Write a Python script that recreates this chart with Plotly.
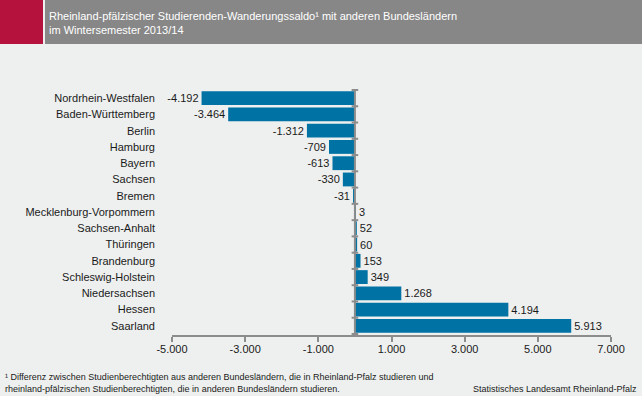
import plotly.graph_objects as go

categories = ["Nordrhein-Westfalen", "Baden-Württemberg", "Berlin", "Hamburg", "Bayern",
              "Sachsen", "Bremen", "Mecklenburg-Vorpommern", "Sachsen-Anhalt", "Thüringen",
              "Brandenburg", "Schleswig-Holstein", "Niedersachsen", "Hessen", "Saarland"]
values = [-4192, -3464, -1312, -709, -613, -330, -31, 3, 52, 60, 153, 349, 1268, 4194, 5913]
x_ticks = [-5000, -3000, -1000, 1000, 3000, 5000, 7000]


def de(v):
    return f"{v:,}".replace(",", ".")


FONT = "Liberation Sans, Arial, sans-serif"
NARROW = "Liberation Sans Narrow, Arial Narrow, Liberation Sans, sans-serif"
AXIS = "#8c8c8c"
BG = "#eef0ef"

fig = go.Figure()
fig.add_trace(go.Bar(
    x=values, y=categories, orientation="h",
    marker=dict(color="#0072a3", line=dict(width=0)),
    text=[de(v) for v in values], textposition="outside",
    textfont=dict(family=FONT, size=11, color="#1a1a1a"),
    cliponaxis=False, width=0.85,
))

# category boundary ticks on the zero line
n = len(categories)
for i in range(n + 1):
    fig.add_shape(type="line", xref="x", yref="y", x0=-90, x1=90,
                  y0=i - 0.5, y1=i - 0.5, line=dict(color=AXIS, width=2), layer="above")
fig.add_shape(type="line", xref="x", yref="y", x0=0, x1=0, y0=-0.5, y1=n - 0.5,
              line=dict(color=AXIS, width=2), layer="above")

fig.update_layout(
    width=642, height=396,
    margin=dict(l=172, r=31, t=89, b=61),
    paper_bgcolor=BG, plot_bgcolor=BG,
    showlegend=False,
    font=dict(family=FONT, size=11, color="#1a1a1a"),
    xaxis=dict(range=[-5000, 7000], tickvals=x_ticks, ticktext=[de(v) for v in x_ticks],
               showgrid=False, zeroline=False, showline=True, linecolor=AXIS, linewidth=2,
               ticks="outside", ticklen=5, tickwidth=2, tickcolor=AXIS, ticklabelstandoff=-2,
               tickfont=dict(family=FONT, size=11, color="#1a1a1a")),
    yaxis=dict(autorange="reversed", showgrid=False, zeroline=False, showline=False,
               ticks="", ticklabelstandoff=16,
               tickfont=dict(family=FONT, size=11, color="#1a1a1a")),
)

# header
fig.add_shape(type="rect", xref="paper", yref="paper", x0=-172/439, x1=-129/439,
              y0=1 + 45/246, y1=1 + 89/246, fillcolor="#b5123e", line=dict(width=0), layer="below")
fig.add_shape(type="rect", xref="paper", yref="paper", x0=-127/439, x1=(642-172)/439,
              y0=1 + 45/246, y1=1 + 89/246, fillcolor="#878787", line=dict(width=0), layer="below")

fig.add_annotation(xref="paper", yref="paper", x=-125/439, y=1 + 81/246, xanchor="left", yanchor="top",
                   text="Rheinland-pfälzischer Studierenden-Wanderungssaldo¹ mit anderen Bundesländern<br>im Wintersemester 2013/14",
                   showarrow=False, align="left",
                   font=dict(family=NARROW, size=11, color="white"))

fig.add_annotation(xref="paper", yref="paper", x=-169/439, y=-(370-335)/246, xanchor="left", yanchor="top",
                   text="¹ Differenz zwischen Studienberechtigten aus anderen Bundesländern, die in Rheinland-Pfalz studieren und<br>rheinland-pfälzischen Studienberechtigten, die in anderen Bundesländern studieren.",
                   showarrow=False, align="left",
                   font=dict(family=FONT, size=9, color="#1a1a1a"))
fig.add_annotation(xref="paper", yref="paper", x=(639-172)/439, y=-(382-335)/246, xanchor="right", yanchor="top",
                   text="Statistisches Landesamt Rheinland-Pfalz",
                   showarrow=False, align="right",
                   font=dict(family=FONT, size=9, color="#1a1a1a"))

fig.write_html("out.html", config={"displayModeBar": False},
               post_script="document.body.style.margin='0';document.body.style.overflow='hidden';")
